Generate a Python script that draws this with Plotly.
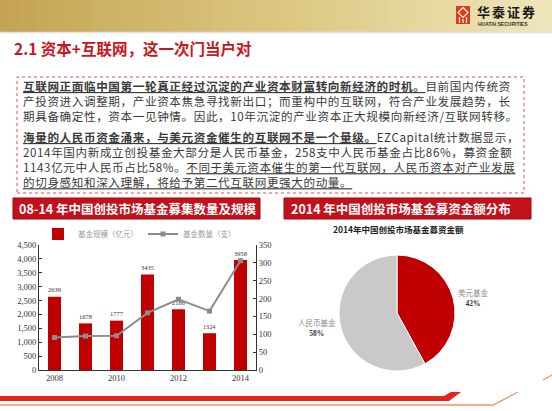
import plotly.graph_objects as go

W, H = 552, 411


def px(x):
    return x / W


def py(y):
    return 1 - y / H


# ---------------- data ----------------
years = [2008, 2009, 2010, 2011, 2012, 2013, 2014]
fund_size = [2639, 1678, 1777, 3435, 2186, 1324, 3958]      # 基金规模（亿元）
fund_count = [91, 95, 96, 160, 198, 165, 306]               # 基金数量（支）
x_tick_years = [2008, 2010, 2012, 2014]
size_name = "基金规模（亿元）"
count_name = "基金数量（支）"

pie_labels = ["美元基金", "人民币基金"]
pie_values = [42, 58]

slide_title = "2.1 资本+互联网，这一次门当户对"
left_header = "08-14 年中国创投市场基金募集数量及规模"
right_header = "2014 年中国创投市场基金募资金额分布"
pie_title = "2014年中国创投市场基金募资金额"

U = "<span style='text-decoration:underline'>"
para1_lines = [
    "<b>" + U + "互联网正面临中国第一轮真正经过沉淀的产业资本财富转向新经济的时机。</span></b>目前国内传统资",
    "产投资进入调整期，产业资本焦急寻找新出口；而重构中的互联网，符合产业发展趋势，长",
    "期具备确定性，资本一见钟情。因此，10年沉淀的产业资本正大规模向新经济/互联网转移。",
]
para2_lines = [
    "<b>" + U + "海量的人民币资金涌来，与美元资金催生的互联网不是一个量级。</span></b>EZCapital统计数据显示，",
    "2014年国内新成立创投基金大部分是人民币基金，258支中人民币基金占比86%，募资金额",
    "1143亿元中人民币占比58%。" + U + "不同于美元资本催生的第一代互联网，人民币资本对产业发展</span>",
    U + "的切身感知和深入理解，将给予第二代互联网更强大的动量。</span>",
]

SANS = "Noto Sans CJK SC, Noto Sans, sans-serif"
SERIF = "Liberation Serif, DejaVu Serif, Noto Sans CJK SC, serif"
RED = "#c00000"

fig = go.Figure()

fig.add_trace(go.Bar(
    x=years, y=fund_size, name=size_name,
    marker=dict(color=RED, line=dict(width=0)),
    text=[str(v) for v in fund_size], textposition="outside",
    textfont=dict(family=SERIF, size=8.5, color="#333333"),
    cliponaxis=False, xaxis="x", yaxis="y", hoverinfo="skip",
))
fig.add_trace(go.Scatter(
    x=years, y=fund_count, name=count_name, mode="lines+markers",
    line=dict(color="#8c8c8c", width=2),
    marker=dict(symbol="square", size=5, color="#8c8c8c"),
    xaxis="x", yaxis="y2", cliponaxis=False, hoverinfo="skip",
))
fig.add_trace(go.Pie(
    labels=pie_labels, values=pie_values, sort=False,
    direction="clockwise", rotation=0,
    marker=dict(colors=[RED, "#c9c9c9"], line=dict(color="white", width=1)),
    textposition="outside",
    texttemplate="<span style='color:#8a8a8a'>%{label}</span><br><b>%{percent}</b>",
    textfont=dict(family=SERIF, size=7.5, color="#333333"),
    domain=dict(x=[px(339), px(455)], y=[py(371), py(255)]),
    showlegend=False, hoverinfo="skip",
))

shapes = []

# banner gradient
stops = [(0.0, (196, 164, 84)), (0.5, (220, 198, 128)), (1.0, (238, 230, 186))]


def lerp_col(t):
    for i in range(len(stops) - 1):
        t0, c0 = stops[i]
        t1, c1 = stops[i + 1]
        if t0 <= t <= t1:
            f = (t - t0) / (t1 - t0)
            return "rgb(%d,%d,%d)" % tuple(round(c0[k] + (c1[k] - c0[k]) * f) for k in range(3))
    return "rgb(%d,%d,%d)" % stops[-1][1]


N = 60
for i in range(N):
    x0 = W * i / N
    x1 = W * (i + 1) / N + 0.6
    shapes.append(dict(type="rect", xref="paper", yref="paper",
                       x0=px(x0), x1=px(x1), y0=py(32), y1=py(0),
                       fillcolor=lerp_col(i / (N - 1)), line=dict(width=0), layer="below"))
shapes.append(dict(type="line", xref="paper", yref="paper", x0=0, x1=1, y0=py(32.5), y1=py(32.5),
                   line=dict(color="#e2e2e2", width=1.5)))

# logo
shapes.append(dict(type="rect", xref="paper", yref="paper", x0=px(456), x1=px(470), y0=py(24), y1=py(6),
                   fillcolor="#e23a12", line=dict(width=0)))


def pth(points):
    return "M" + " L".join("%.4f,%.4f" % (px(a), py(b)) for a, b in points)


for pts in [
    [(463, 7.5), (468, 12.5), (463, 17.5), (458, 12.5), (463, 7.5)],
    [(459.5, 17), (459.5, 23)],
    [(463, 19), (463, 23)],
    [(466.5, 17), (466.5, 23)],
]:
    shapes.append(dict(type="path", xref="paper", yref="paper", path=pth(pts),
                       line=dict(color="white", width=1.2)))

# dashed text box
shapes.append(dict(type="rect", xref="paper", yref="paper", x0=px(17), x1=px(524), y0=py(193), y1=py(77),
                   line=dict(color="#d9534f", width=1, dash="dot"), fillcolor="rgba(0,0,0,0)"))

# chart header boxes
for x0, x1 in [(13, 260), (284, 531)]:
    shapes.append(dict(type="rect", xref="paper", yref="paper", x0=px(x0), x1=px(x1), y0=py(219), y1=py(198),
                       fillcolor="#c3111b", line=dict(color="#9e0a10", width=1)))

# bottom decorations
shapes.append(dict(type="path", xref="paper", yref="paper",
                   path=pth([(0, 396), (444, 396), (451, 392), (461, 392), (449, 401), (0, 401)]) + " Z",
                   fillcolor="#e5231a", line=dict(width=0)))
shapes.append(dict(type="path", xref="paper", yref="paper",
                   path=pth([(0, 405), (493, 405), (518, 392)]),
                   line=dict(color="#f0946e", width=1.3)))
shapes.append(dict(type="path", xref="paper", yref="paper",
                   path=pth([(543, 380), (552, 375)]),
                   line=dict(color="#f0946e", width=1.3)))

annotations = []
# logo text
annotations.append(dict(text="<span style='letter-spacing:2px'><b>华泰证券</b></span>",
                        x=px(475), y=py(11.5), xref="paper", yref="paper",
                        xanchor="left", yanchor="middle", showarrow=False,
                        font=dict(family=SANS, size=13, color="#1a1a1a")))
annotations.append(dict(text="<b>HUATAI SECURITIES</b>", x=px(476), y=py(24), xref="paper", yref="paper",
                        xanchor="left", yanchor="middle", showarrow=False,
                        font=dict(family="Liberation Sans, Arial", size=5, color="#333333")))
# slide title
annotations.append(dict(text="<b>" + slide_title + "</b>", x=px(12), y=py(48), xref="paper", yref="paper",
                        xanchor="left", yanchor="middle", showarrow=False,
                        font=dict(family=SANS, size=15.5, color="#c8161d")))


# body text (one annotation per paragraph)
def ls(line):
    return "<span style='letter-spacing:0.6px'>" + line + "</span>"


for lines, yc in [(para1_lines, 100.8), (para2_lines, 159.5)]:
    annotations.append(dict(text="<br>".join(ls(l) for l in lines), x=px(21), y=py(yc),
                            xref="paper", yref="paper", align="left",
                            xanchor="left", yanchor="middle", showarrow=False,
                            font=dict(family=SANS, size=11.6, color="#3a3a3a")))
# headers
annotations.append(dict(text="<b>" + left_header + "</b>", x=px(17), y=py(208.5), xref="paper", yref="paper",
                        xanchor="left", yanchor="middle", showarrow=False,
                        font=dict(family=SANS, size=12.5, color="white")))
annotations.append(dict(text="<b>" + right_header + "</b>", x=px(289), y=py(208.5), xref="paper", yref="paper",
                        xanchor="left", yanchor="middle", showarrow=False,
                        font=dict(family=SANS, size=12.5, color="white")))
annotations.append(dict(text="<b>" + pie_title + "</b>", x=px(398), y=py(229), xref="paper", yref="paper",
                        xanchor="center", yanchor="middle", showarrow=False,
                        font=dict(family=SANS, size=8.5, color="#222222")))

axis_common = dict(showline=True, linecolor="#333333", linewidth=1, showgrid=False, zeroline=False,
                   ticks="inside", ticklen=3, tickcolor="#333333", automargin=False,
                   tickfont=dict(family=SERIF, size=8.5, color="#333333"))

fig.update_layout(
    width=W, height=H, margin=dict(l=0, r=0, t=0, b=0, pad=0),
    paper_bgcolor="white", plot_bgcolor="rgba(0,0,0,0)",
    bargap=0.58,
    xaxis=dict(domain=[px(39), px(256)], range=[2007.5, 2014.5], tickvals=x_tick_years,
               anchor="y", **axis_common),
    yaxis=dict(domain=[py(370), py(245)], range=[0, 4500], dtick=500, tickformat=",d",
               anchor="x", **axis_common),
    yaxis2=dict(range=[0, 350], dtick=50, overlaying="y", side="right", anchor="x", **axis_common),
    legend=dict(orientation="h", x=px(38), y=py(234), xanchor="left", yanchor="middle",
                font=dict(family=SERIF, size=7.5, color="#999999"), bgcolor="rgba(0,0,0,0)",
                itemwidth=30, tracegroupgap=0),
    shapes=shapes, annotations=annotations, showlegend=True,
)

fig.write_html("out.html", config={"displayModeBar": False},
               post_script="document.body.style.margin='0px';")
